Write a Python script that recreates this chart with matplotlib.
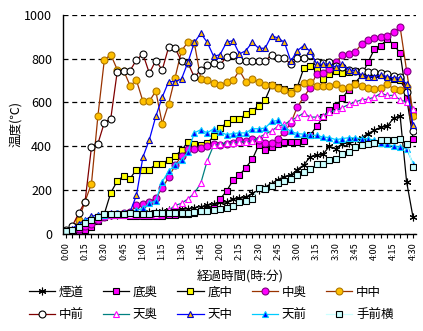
import matplotlib
matplotlib.use("Agg")
import matplotlib.pyplot as plt

plt.rcParams["font.family"] = ["Noto Sans CJK JP", "DejaVu Sans"]

# 5-minute readings, 0:00 .. 4:30
MINUTES = list(range(0, 275, 5))
TICK_MIN = list(range(0, 275, 15))
TICK_LABELS = [f"{m // 60}:{m % 60:02d}" for m in TICK_MIN]

ENDO = [0, 10, 30, 50, 65, 75, 80, 85, 88, 90,
        92, 95, 98, 100, 102, 105, 108, 110, 112, 115,
        120, 125, 130, 138, 147, 145, 160, 162, 168, 185,
        200, 215, 230, 248, 262, 268, 294, 314, 352, 359,
        364, 400, 389, 412, 415, 427, 439, 458, 473, 488,
        491, 530, 536, 238, 76]
SOKO_OKU = [5, 8, 12, 20, 30, 60, 78, 85, 88, 88,
            82, 80, 80, 80, 82, 82, 85, 88, 90, 92,
            95, 105, 110, 120, 160, 195, 245, 268, 303, 340,
            405, 385, 395, 410, 420, 420, 420, 424, 450, 491,
            533, 567, 582, 620, 658, 690, 723, 783, 844, 859,
            889, 864, 824, 620, 435]
SOKO_NAKA = [10, 15, 25, 45, 60, 78, 92, 188, 241, 265,
             253, 294, 294, 294, 318, 321, 339, 356, 382, 420,
             410, 405, 415, 445, 483, 506, 526, 526, 545, 562,
             585, 612, 680, 670, 660, 650, 670, 755, 764, 750,
             705, 728, 745, 733, 738, 741, 735, 730, 730, 725,
             720, 705, 700, 650, 560]
NAKA_OKU = [3, 15, 25, 35, 45, 64, 79, 86, 90, 95,
            100, 130, 139, 148, 162, 210, 258, 313, 356, 386,
            386, 390, 402, 412, 408, 409, 417, 430, 424, 435,
            427, 415, 415, 435, 465, 506, 579, 624, 667, 730,
            733, 753, 785, 814, 821, 829, 867, 885, 894, 900,
            905, 922, 942, 745, 552]
NAKA_NAKA = [10, 25, 64, 148, 230, 538, 794, 818, 750, 745,
             677, 700, 605, 605, 652, 503, 594, 713, 836, 875,
             870, 708, 700, 688, 680, 692, 700, 746, 695, 705,
             692, 680, 680, 664, 657, 642, 667, 689, 692, 677,
             673, 677, 685, 665, 670, 685, 677, 667, 660, 665,
             685, 660, 658, 672, 540]
NAKA_MAE = [18, 35, 94, 147, 397, 412, 508, 526, 739, 745,
            745, 794, 821, 733, 791, 748, 852, 847, 788, 780,
            715, 748, 770, 778, 770, 809, 814, 795, 791, 791,
            791, 788, 818, 803, 803, 773, 803, 803, 818, 785,
            780, 785, 765, 760, 750, 745, 745, 740, 738, 733,
            730, 722, 718, 647, 470]
TEN_OKU = [8, 15, 30, 50, 62, 72, 80, 85, 85, 85,
           85, 85, 85, 85, 88, 94, 108, 130, 140, 160,
           186, 232, 334, 405, 410, 415, 415, 420, 420, 425,
           440, 455, 470, 491, 500, 518, 533, 552, 533, 533,
           540, 556, 564, 576, 591, 602, 612, 615, 624, 642,
           632, 632, 612, 602, 570]
TEN_NAKA = [10, 25, 45, 65, 80, 88, 92, 95, 97, 98,
            100, 177, 351, 430, 536, 624, 695, 695, 707, 783,
            874, 915, 874, 810, 818, 874, 882, 821, 836, 874,
            847, 847, 904, 894, 874, 788, 836, 859, 833, 776,
            773, 776, 760, 776, 748, 745, 723, 718, 718, 725,
            718, 712, 712, 685, 495]
TEN_MAE = [8, 15, 35, 58, 70, 80, 88, 92, 95, 95,
           97, 108, 117, 140, 152, 238, 287, 314, 336, 374,
           461, 476, 461, 480, 465, 453, 458, 461, 461, 480,
           480, 483, 513, 518, 488, 468, 458, 455, 450, 450,
           442, 440, 430, 435, 439, 438, 435, 435, 427, 415,
           409, 400, 397, 389, 321]
TEMAE_YOKO = [14, 18, 30, 48, 64, 76, 89, 89, 91, 91,
              94, 92, 92, 92, 94, 94, 94, 95, 97, 98,
              102, 106, 106, 108, 112, 120, 127, 147, 152, 158,
              210, 205, 218, 233, 243, 252, 268, 283, 298, 317,
              321, 336, 344, 364, 374, 397, 405, 410, 413, 430,
              430, 430, 435, 412, 306]

# name, values, line colour, marker, face, edge
SERIES = [
    ("煙道", ENDO, "black", (6, 2, 0), "black", "black"),
    ("底奥", SOKO_OKU, "black", "s", "#FF00FF", "black"),
    ("底中", SOKO_NAKA, "black", "s", "#FFFF00", "black"),
    ("中奥", NAKA_OKU, "#993300", "o", "#FF00FF", "#800080"),
    ("中中", NAKA_NAKA, "#993300", "o", "#FFC000", "#B07800"),
    ("中前", NAKA_MAE, "#800000", "o", "white", "black"),
    ("天奥", TEN_OKU, "#008080", "^", "white", "#FF00FF"),
    ("天中", TEN_NAKA, "#0000FF", "^", "#FFC000", "#0000CC"),
    ("天前", TEN_MAE, "#00CCFF", "^", "#0000FF", "#00CCFF"),
    ("手前横", TEMAE_YOKO, "#CCFFFF", "s", "#CCFFFF", "black"),
]

fig = plt.figure(figsize=(4.23, 3.31), dpi=100)
ax = fig.add_axes([63.3 / 423, 1 - 234 / 331, (416 - 63.3) / 423, (234 - 14.7) / 331])

handles = []
for name, vals, lc, mk, fc, ec in SERIES:
    ms = 5.5 if mk == (6, 2, 0) else 5
    line, = ax.plot(MINUTES, vals, color=lc, lw=0.9, marker=mk, ms=ms,
                    mfc=fc, mec=ec, mew=0.8, label=name)
    handles.append(line)

ax.set_xlim(-1.9, 272.3)
ax.set_ylim(0, 1000)
ax.set_yticks([0, 200, 400, 600, 800, 1000])
ax.set_xticks(TICK_MIN)
ax.set_xticklabels(TICK_LABELS, rotation=90, fontsize=6.5)
ax.set_xticks(MINUTES, minor=True)
ax.tick_params(axis="x", which="both", length=3, width=0.8, direction="out", pad=3)
ax.tick_params(axis="y", length=0, pad=8, labelsize=9)
ax.grid(axis="y", color="black", linestyle=(0, (4, 3)), linewidth=0.9)
ax.set_axisbelow(True)
for s in ("top", "right"):
    ax.spines[s].set_visible(False)
for s in ("left", "bottom"):
    ax.spines[s].set_linewidth(1.0)

fig.text(16 / 423, 1 - 124 / 331, "温度(℃)", rotation=90, fontsize=9,
         ha="center", va="center")
fig.text(240 / 423, 1 - 277 / 331, "経過時間(時:分)", fontsize=9,
         ha="center", va="center")

# legend fills column-wise, so interleave the two rows
order = [0, 5, 1, 6, 2, 7, 3, 8, 4, 9]
fig.legend([handles[i] for i in order], [SERIES[i][0] for i in order],
           ncol=5, loc="center", bbox_to_anchor=(0.499, 0.083), frameon=False,
           fontsize=9, handlelength=2.1, handletextpad=0.3,
           columnspacing=1.55, labelspacing=0.75, borderpad=0)

fig.savefig("out.png", dpi=100)
